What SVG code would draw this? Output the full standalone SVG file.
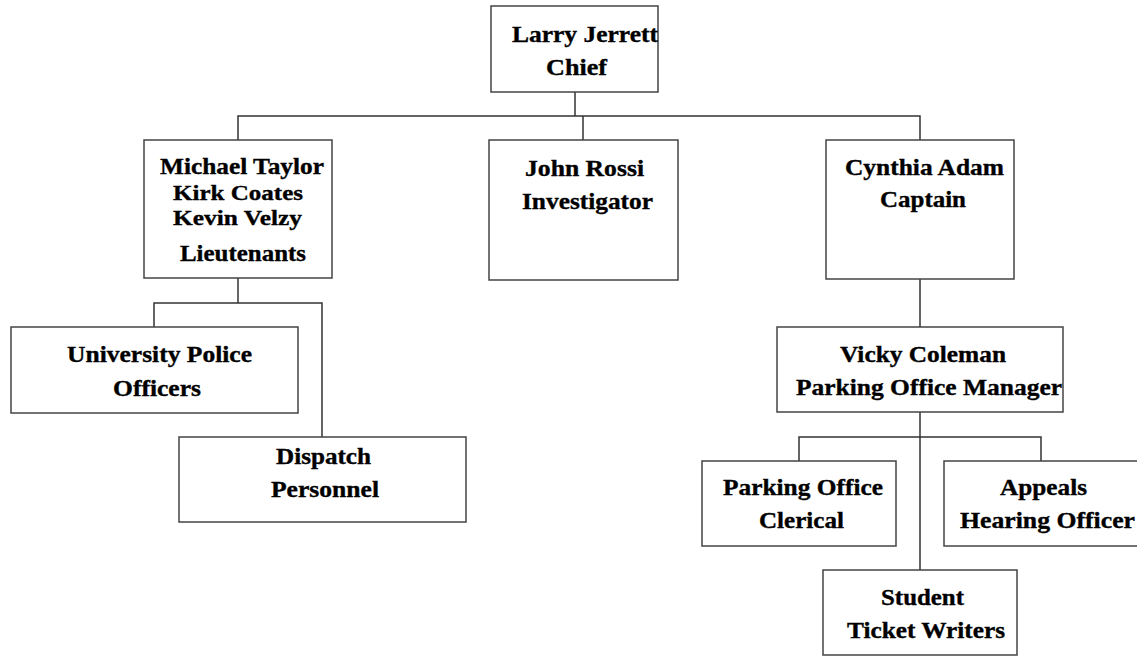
<svg xmlns="http://www.w3.org/2000/svg" width="1137" height="656" viewBox="0 0 1137 656">
<style>
.box{fill:#fff;stroke:#444;stroke-width:1.5}
.con{fill:none;stroke:#333;stroke-width:1.5}
text{font-family:"Liberation Serif","Times New Roman",serif;font-weight:bold;font-size:23px;fill:#000;stroke:#000;stroke-width:0.35}
.tight{font-size:22px}
</style>
<rect width="1137" height="656" fill="#fff"/>
<g id="connectors">
<path class="con" d="M575,92 V116"/>
<path class="con" d="M238,140 V116 H920 V140"/>
<path class="con" d="M583,116 V140"/>
<path class="con" d="M238,278 V303"/>
<path class="con" d="M154,327 V303 H322 V437"/>
<path class="con" d="M920,279 V327"/>
<path class="con" d="M920,412 V570"/>
<path class="con" d="M799,461 V437 H1041 V461"/>
</g>
<g id="chief">
<rect class="box" x="491" y="6" width="167" height="86"/>
<text x="512" y="42" textLength="146" lengthAdjust="spacingAndGlyphs">Larry Jerrett</text>
<text x="546" y="75" textLength="61" lengthAdjust="spacingAndGlyphs">Chief</text>
</g>
<g id="lieutenants">
<rect class="box" x="144" y="140" width="188" height="138"/>
<text x="160" y="174" textLength="164" lengthAdjust="spacingAndGlyphs">Michael Taylor</text>
<text class="tight" x="173" y="200" textLength="130" lengthAdjust="spacingAndGlyphs">Kirk Coates</text>
<text class="tight" x="173" y="225" textLength="129" lengthAdjust="spacingAndGlyphs">Kevin Velzy</text>
<text x="180" y="261" textLength="126" lengthAdjust="spacingAndGlyphs">Lieutenants</text>
</g>
<g id="investigator">
<rect class="box" x="489" y="140" width="189" height="140"/>
<text x="525" y="176" textLength="119" lengthAdjust="spacingAndGlyphs">John Rossi</text>
<text x="522" y="209" textLength="131" lengthAdjust="spacingAndGlyphs">Investigator</text>
</g>
<g id="captain">
<rect class="box" x="826" y="140" width="188" height="139"/>
<text x="845" y="175" textLength="159" lengthAdjust="spacingAndGlyphs">Cynthia Adam</text>
<text x="880" y="207" textLength="86" lengthAdjust="spacingAndGlyphs">Captain</text>
</g>
<g id="officers">
<rect class="box" x="11" y="327" width="287" height="86"/>
<text x="67" y="362" textLength="185" lengthAdjust="spacingAndGlyphs">University Police</text>
<text x="113" y="396" textLength="88" lengthAdjust="spacingAndGlyphs">Officers</text>
</g>
<g id="dispatch">
<rect class="box" x="179" y="437" width="287" height="85"/>
<text x="276" y="464" textLength="95" lengthAdjust="spacingAndGlyphs">Dispatch</text>
<text x="271" y="497" textLength="108" lengthAdjust="spacingAndGlyphs">Personnel</text>
</g>
<g id="parking-manager">
<rect class="box" x="777" y="327" width="286" height="85"/>
<text x="840" y="362" textLength="166" lengthAdjust="spacingAndGlyphs">Vicky Coleman</text>
<text x="796" y="395" textLength="266" lengthAdjust="spacingAndGlyphs">Parking Office Manager</text>
</g>
<g id="clerical">
<rect class="box" x="702" y="461" width="194" height="85"/>
<text x="723" y="495" textLength="160" lengthAdjust="spacingAndGlyphs">Parking Office</text>
<text x="759" y="528" textLength="85" lengthAdjust="spacingAndGlyphs">Clerical</text>
</g>
<g id="appeals">
<rect class="box" x="944" y="461" width="200" height="85"/>
<text x="1000" y="495" textLength="87" lengthAdjust="spacingAndGlyphs">Appeals</text>
<text x="960" y="528" textLength="175" lengthAdjust="spacingAndGlyphs">Hearing Officer</text>
</g>
<g id="ticket-writers">
<rect class="box" x="823" y="570" width="194" height="85"/>
<text x="881" y="605" textLength="83" lengthAdjust="spacingAndGlyphs">Student</text>
<text x="847" y="638" textLength="158" lengthAdjust="spacingAndGlyphs">Ticket Writers</text>
</g>
</svg>
